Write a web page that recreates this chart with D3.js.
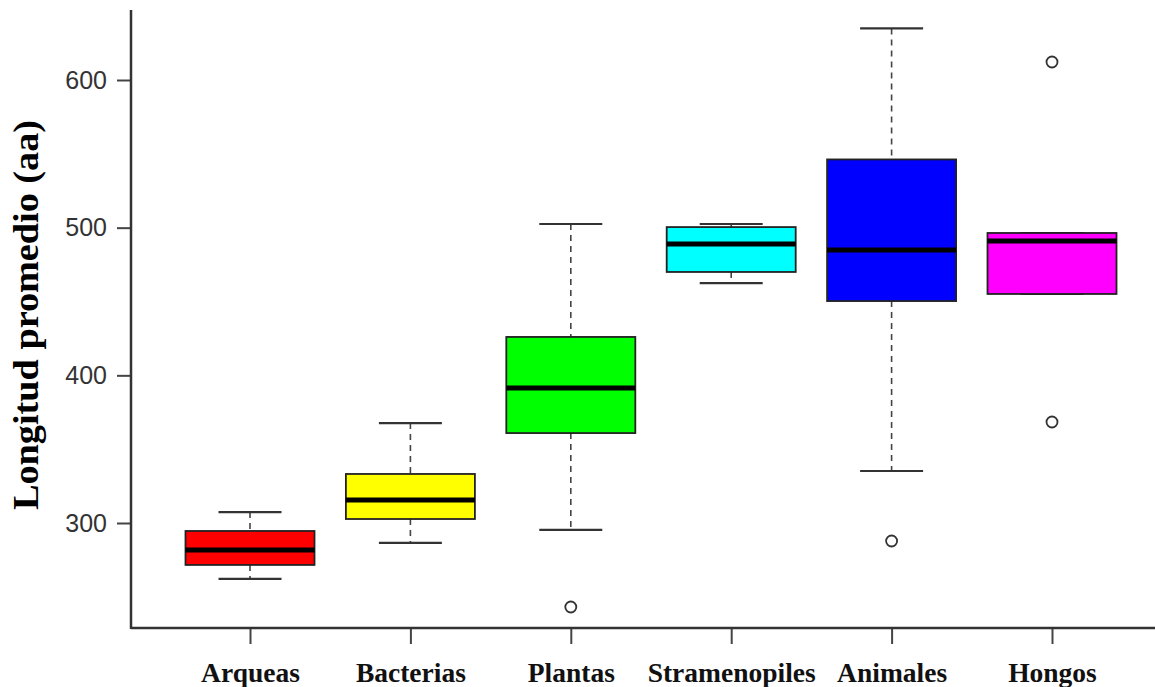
<!DOCTYPE html>
<html>
<head>
<meta charset="utf-8">
<script src="https://cdn.jsdelivr.net/npm/d3@7"></script>
<style>
    html, body { margin: 0; padding: 0; background: #fff; }
    svg { display: block; }
</style>
</head>
<body>
<svg id="chart" width="1155" height="687"></svg>
<script>
(function () {

    var categories = ['Arqueas', 'Bacterias', 'Plantas', 'Stramenopiles', 'Animales', 'Hongos'];
    var lowerWhisker = [262.1, 286.5, 295.3, 462.5, 335.2, 455.1];
    var q1 = [271.6, 302.7, 360.9, 470.0, 450.3, 455.1];
    var median = [281.7, 315.6, 391.4, 488.9, 484.9, 491.0];
    var q3 = [294.6, 333.2, 426.0, 500.4, 546.2, 496.4];
    var upperWhisker = [307.4, 367.7, 502.5, 502.5, 634.9, 496.4];
    var outliers = [[], [], [243.1], [], [287.8], [612.2, 368.4]];
    var fills = ['#ff0000', '#ffff00', '#00ff00', '#00ffff', '#0000ff', '#ff00ff'];
    var yTicks = [300, 400, 500, 600];

    var svg = d3.select('#chart');

    var x = d3.scalePoint().domain(categories).range([250, 1052]);
    var y = d3.scaleLinear().domain([300, 600]).range([523, 80]);

    var boxW = 129;
    var capW = 63;
    var axisX = 131;
    var axisY = 628;

    // y axis
    var yAxis = svg.append('g')
        .attr('transform', 'translate(' + axisX + ',0)')
        .call(d3.axisLeft(y).tickValues(yTicks).tickSize(14).tickPadding(10));
    yAxis.select('.domain').remove();
    yAxis.selectAll('.tick line').attr('stroke', '#444').attr('stroke-width', 2);
    yAxis.selectAll('.tick text')
        .attr('fill', '#333')
        .style('font-family', '"Liberation Sans", Arial, sans-serif')
        .style('font-size', '25px');
    svg.append('line')
        .attr('x1', axisX).attr('x2', axisX)
        .attr('y1', 10).attr('y2', axisY + 1)
        .attr('stroke', '#333').attr('stroke-width', 2.5);

    // x axis
    var xAxis = svg.append('g')
        .attr('transform', 'translate(0,' + axisY + ')')
        .call(d3.axisBottom(x).tickSize(16).tickPadding(18));
    xAxis.select('.domain').remove();
    xAxis.selectAll('.tick line').attr('stroke', '#444').attr('stroke-width', 2);
    xAxis.selectAll('.tick text')
        .attr('fill', '#111')
        .style('font-family', '"Liberation Serif", "Times New Roman", serif')
        .style('font-weight', 'bold')
        .style('font-size', '27.5px');
    svg.append('line')
        .attr('x1', axisX).attr('x2', 1155)
        .attr('y1', axisY).attr('y2', axisY)
        .attr('stroke', '#333').attr('stroke-width', 2.5);

    // y label - stretched a bit along its length like the original
    svg.append('text')
        .attr('transform', 'translate(38,315) rotate(-90)')
        .attr('text-anchor', 'middle')
        .attr('fill', '#000')
        .attr('textLength', 390)
        .attr('lengthAdjust', 'spacingAndGlyphs')
        .style('font-family', '"Liberation Serif", "Times New Roman", serif')
        .style('font-weight', 'bold')
        .style('font-size', '36px')
        .text('Longitud promedio (aa)');

    // boxes
    var g = svg.selectAll('g.box')
        .data(categories)
        .join('g')
        .attr('class', 'box')
        .attr('transform', function (d) { return 'translate(' + x(d) + ',0)'; });

    // whiskers (dashed)
    g.append('line')
        .attr('y1', function (d, i) { return y(upperWhisker[i]); })
        .attr('y2', function (d, i) { return y(q3[i]); })
        .attr('stroke', '#444').attr('stroke-width', 1.6)
        .attr('stroke-dasharray', '6,5');
    g.append('line')
        .attr('y1', function (d, i) { return y(q1[i]); })
        .attr('y2', function (d, i) { return y(lowerWhisker[i]); })
        .attr('stroke', '#444').attr('stroke-width', 1.6)
        .attr('stroke-dasharray', '6,5');

    // caps
    g.append('line')
        .attr('x1', -capW / 2).attr('x2', capW / 2)
        .attr('y1', function (d, i) { return y(upperWhisker[i]); })
        .attr('y2', function (d, i) { return y(upperWhisker[i]); })
        .attr('stroke', '#333').attr('stroke-width', 2.2);
    g.append('line')
        .attr('x1', -capW / 2).attr('x2', capW / 2)
        .attr('y1', function (d, i) { return y(lowerWhisker[i]); })
        .attr('y2', function (d, i) { return y(lowerWhisker[i]); })
        .attr('stroke', '#333').attr('stroke-width', 2.2);

    g.append('rect')
        .attr('x', -boxW / 2)
        .attr('width', boxW)
        .attr('y', function (d, i) { return y(q3[i]); })
        .attr('height', function (d, i) { return y(q1[i]) - y(q3[i]); })
        .attr('fill', function (d, i) { return fills[i]; })
        .attr('stroke', '#222').attr('stroke-width', 1.8);

    g.append('line')
        .attr('x1', -boxW / 2).attr('x2', boxW / 2)
        .attr('y1', function (d, i) { return y(median[i]); })
        .attr('y2', function (d, i) { return y(median[i]); })
        .attr('stroke', '#000').attr('stroke-width', 5);

    // outliers
    g.selectAll('circle')
        .data(function (d, i) { return outliers[i]; })
        .join('circle')
        .attr('r', 5.5)
        .attr('cy', function (v) { return y(v); })
        .attr('fill', 'none')
        .attr('stroke', '#333').attr('stroke-width', 1.8);

})();
</script>
</body>
</html>
